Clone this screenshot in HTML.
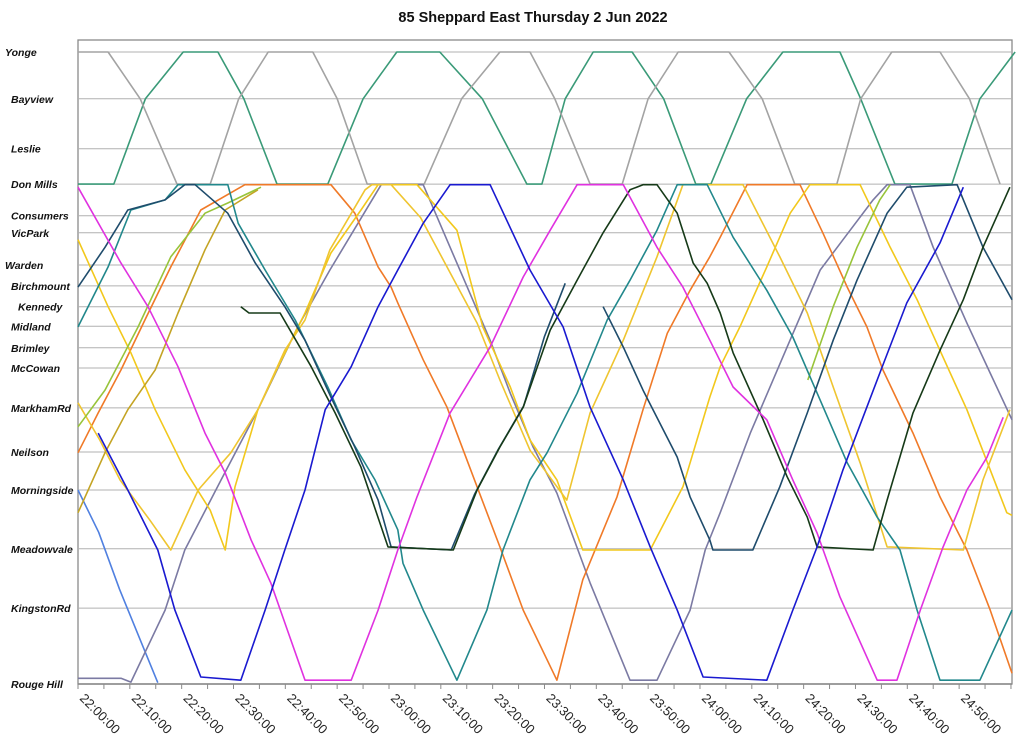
<!DOCTYPE html>
<html><head><meta charset="utf-8">
<style>
html,body{margin:0;padding:0;background:#fff;}
svg{display:block;font-family:"Liberation Sans",Arial,sans-serif;}
</style></head>
<body>
<svg id="chart" width="1024" height="753" viewBox="0 0 1024 753" xmlns="http://www.w3.org/2000/svg">
<text x="533" y="22" text-anchor="middle" font-size="14.5" font-weight="bold" fill="#111">85 Sheppard East Thursday 2 Jun 2022</text>
<g id="grid"></g><g id="series"></g><g id="axes"></g>
</svg>
<script>
// y categories (stations) and their distance along the route (0..100)
const stations = ["Yonge","Bayview","Leslie","Don Mills","Consumers","VicPark","Warden","Birchmount","Kennedy","Midland","Brimley","McCowan","MarkhamRd","Neilson","Morningside","Meadowvale","KingstonRd","Rouge Hill"];
const stationPos = [0,7.4,15.3,20.9,25.9,28.6,33.7,37,40.3,43.4,46.8,50,56.3,63.3,69.3,78.6,88,100];
const stationLabelX = [5,11,11,11,11,11,5,11,18,11,11,11,11,11,11,11,11,11];
const tickLabels = ["22:00:00","22:10:00","22:20:00","22:30:00","22:40:00","22:50:00","23:00:00","23:10:00","23:20:00","23:30:00","23:40:00","23:50:00","24:00:00","24:10:00","24:20:00","24:30:00","24:40:00","24:50:00"];
const tickMinutes = [0,10,20,30,40,50,60,70,80,90,100,110,120,130,140,150,160,170];
// trips: [minutes after 22:00, distance]
const tripGreen = [[0,20.9],[6.9,20.9],[13,7.4],[20.3,0],[27,0],[32,7.4],[38.4,20.9],[48.2,20.9],[55,7.4],[61.5,0],[69.8,0],[78,7.4],[86.6,20.9],[89.5,20.9],[94,7.4],[99.4,0],[106.9,0],[113,7.4],[119.2,20.9],[122.1,20.9],[129,7.4],[136,0],[147,0],[151,7.4],[157.6,20.9],[168.6,20.9],[174,7.4],[180.8,0]];
const tripGray = [[0,0],[5.8,0],[12,7.4],[19.1,20.9],[25.5,20.9],[31,7.4],[36.7,0],[45.3,0],[50,7.4],[55.8,20.9],[66.8,20.9],[74,7.4],[81.4,0],[87.2,0],[92,7.4],[98.8,20.9],[105,20.9],[110,7.4],[115.8,0],[125.6,0],[132,7.4],[138.3,20.9],[146.4,20.9],[151,7.4],[157,0],[166.3,0],[172,7.4],[177.9,20.9]];
const tripLightBlue = [[0,69.3],[4,76],[8,85],[12,93],[15.4,99.8]];
const tripSlate = [[0,99.1],[8.3,99.1],[10.2,99.7],[16.8,88.3],[20.6,78.8],[27.6,67.7],[34.7,56.6],[42.4,43.5],[48.6,34.5],[58.5,21],[66.6,21],[73.1,33.4],[79.5,45.6],[83.4,54],[87.8,62.5],[92.4,69.8],[98.8,84],[106.5,99.4],[111.7,99.4],[118.1,88.3],[121,78.8],[123.9,72.9],[129.7,60.3],[136.8,46.7],[143.2,34.5],[147.6,29.7],[153.4,23.4],[156.1,21],[160.5,21],[165,30.9],[171.5,42.9],[176,50.8],[180.2,58.2]];
const tripBlue = [[3.9,60.3],[9.6,69.3],[15.4,78.8],[18.7,88.3],[23.7,98.9],[31.4,99.4],[36.1,88.3],[39.9,78.8],[43.8,69.3],[47.7,56.6],[52.7,49.8],[57.9,40.3],[61.7,34.5],[66.6,27.1],[71.8,21],[79.5,21],[87.2,34.5],[93.6,43.5],[98.8,56.2],[105.2,67.7],[110.4,78.3],[115.6,88.3],[120.6,98.9],[132.9,99.4],[137.9,88.3],[142.6,78.3],[147.6,66.1],[154.7,50.8],[159.9,39.7],[166.3,30.2],[170.8,21.4]];
const tripMagenta = [[0,21.4],[8.3,33.4],[13.5,40.3],[19.3,49.8],[24.5,60.3],[28.4,66.6],[33.4,77.2],[37.2,84],[43.8,99.4],[52.7,99.4],[57.9,88.3],[61.7,78.8],[65.4,70.4],[71.8,57.1],[79.5,46.7],[85.9,35.6],[91.1,28.2],[96.3,21],[105.2,21],[111.7,30.9],[116.7,37.2],[121.9,45.6],[126.4,53],[132.9,58.2],[137.9,67.7],[142.6,76.1],[147,86.2],[154.2,99.4],[158,99.4],[162.5,88.3],[166.9,78.3],[171.5,69.3],[175.4,64.1],[178.5,57.8]];
const tripYellowA = [[0,29.7],[5.8,40.3],[10.2,47.6],[14.9,56.6],[20.6,66.1],[25.5,72.5],[28.4,78.8],[30.3,68.8],[34.7,56.6],[38.6,49.8],[43.8,41.3],[48.8,31.8],[54.6,25],[57.9,21],[65.4,21],[73.1,28.2],[78.1,43.5],[83.4,53],[87.2,61.4],[92.4,67.7],[97.4,78.8],[110.4,78.8],[116.7,68.8],[121.9,54.6],[123.9,49.8],[127.7,43.5],[132.9,34],[137.4,25.5],[141.2,21],[150.9,21],[156.7,30.9],[161.9,39.2],[166.9,48.3],[171.5,56.6],[176,66.1],[179.2,72.9],[180.2,73.3]];
const tripYellowB = [[0,55.5],[4.2,61.4],[8.1,67.7],[13.9,74.1],[17.9,78.8],[23.2,69.3],[29.5,63.4],[34.7,56.6],[39.9,47.2],[43.8,42.4],[48.6,31.3],[55.4,21.8],[56.7,21],[60.4,21],[66.1,26.2],[77,42.9],[81.4,51.9],[87.2,63],[94.3,70.9],[98.8,57.1],[105.2,45.6],[111.7,32.4],[116.7,21],[128.3,21],[135.4,32.4],[140.7,41.3],[145.7,53],[150.9,65],[156.1,78.3],[170.8,78.8],[174.6,67.7],[179.8,56.6]];
const tripOlive = [[0,72.9],[5.2,63.4],[9.6,56.6],[14.9,50.3],[19.3,41.3],[24.5,31.3],[28.4,25],[34.7,21.8]];
const tripOrange = [[0,63.4],[3.9,57.1],[8.3,50.3],[12.9,42.4],[17.9,34],[23.7,25],[32.2,21],[48.8,21],[53.4,25.5],[57.9,34],[60.4,37.2],[61.7,39.7],[66.6,48.7],[71.2,56.2],[77,68.8],[81.4,78.3],[85.9,88.3],[92.4,99.4],[97.4,83.5],[104,70.4],[109,56.6],[113.7,44.5],[118.1,37.7],[121.9,32.4],[123.9,29.3],[129.1,21],[139.3,21],[143.7,28.6],[148.4,37.2],[152.2,43.5],[155.3,50.3],[161.1,60.3],[166.3,70.4],[171.5,78.8],[176,88.3],[180.2,98.3]];
const tripLime1 = [[0,59.3],[5.2,53.5],[11.6,43.5],[17.9,32.4],[24.5,25.5],[28.9,23.9],[35.3,21.4]];
const tripLime2 = [[140.8,51.9],[145.7,40.3],[150.3,30.9],[154.7,23.4],[156.7,21]];
const tripNavy = [[0,37.2],[5.2,30.9],[9.6,25],[16.8,23.4],[20.6,21],[22.6,21],[28.9,25.5],[34.2,33.4],[39.9,40.3],[43.8,45.6],[48.8,54.6],[53.4,62.5],[57.9,70.9],[60.4,78.3],[72,78.8],[76.5,70],[81,63],[86,56],[90,45],[94,36.6]];
const tripNavy2 = [[101.3,40.3],[105.2,46.7],[109,53.5],[115.6,64.1],[118.1,70.4],[121.9,77.2],[122.5,78.8],[130.2,78.8],[135.4,68.8],[140.7,57.1],[145.7,45.6],[150.3,36.1],[156.1,25.5],[159.9,21.4],[169.6,21],[174.6,30.9],[180.2,39.2]];
const tripBlack = [[31.4,40.3],[33,41.3],[39,41.3],[45,49.8],[49.6,57.1],[54.6,65.7],[59.8,78.3],[72.4,78.8],[77,69.3],[81.4,62.5],[85.9,56.2],[91.1,44],[96.3,36.1],[101.3,28.6],[106.5,21.8],[109,21],[111.7,21],[115.6,25.5],[118.7,33.4],[121.4,36.6],[123.9,41.3],[126.4,47.6],[132.2,58.2],[136.8,67.2],[140.7,73.6],[142.6,78.3],[153.4,78.8],[156.1,70.9],[161.1,57.1],[166.3,47.2],[170.8,39.2],[174.6,30.9],[179.8,21.4]];
const tripTeal = [[0,43.5],[5.8,34],[10.2,25],[16.8,23.4],[19.3,21],[28.9,21],[30.9,27.1],[36.1,34.5],[41.9,42.4],[48.2,53],[52.7,61.4],[57.3,67.7],[61.7,75.6],[62.7,80.9],[66.6,88.3],[73.1,99.4],[78.9,88.3],[82,78.8],[87.2,67.7],[90.5,63.4],[96.3,54],[102.1,42.4],[106.5,36.1],[111.7,28.2],[115.6,21],[121.4,21],[126.4,29.3],[132.9,37.7],[137.9,45.1],[143.2,55.1],[148.4,65],[154.2,73.6],[158.6,78.8],[161.9,88.3],[166.3,99.4],[174,99.4],[180.2,88.3]];

const trips = [
 {name:"trip-green-shuttle",d:tripGreen,c:"#3a9a78"},
 {name:"trip-gray-shuttle",d:tripGray,c:"#a3a3a3"},
 {name:"trip-light-blue",d:tripLightBlue,c:"#5080e0"},
 {name:"trip-slate",d:tripSlate,c:"#7b7aa3"},
 {name:"trip-orange",d:tripOrange,c:"#f07a28"},
 {name:"trip-yellow-a",d:tripYellowA,c:"#f2c81c"},
 {name:"trip-yellow-b",d:tripYellowB,c:"#efc530"},
 {name:"trip-olive",d:tripOlive,c:"#c4a424"},
 {name:"trip-lime-1",d:tripLime1,c:"#98c43a"},
 {name:"trip-lime-2",d:tripLime2,c:"#98c43a"},
 {name:"trip-teal",d:tripTeal,c:"#22888c"},
 {name:"trip-navy",d:tripNavy,c:"#1f4c6c"},
 {name:"trip-navy-2",d:tripNavy2,c:"#1f4c6c"},
 {name:"trip-black",d:tripBlack,c:"#163a18"},
 {name:"trip-magenta",d:tripMagenta,c:"#e032e0"},
 {name:"trip-blue",d:tripBlue,c:"#1a1ad0"}
];

const X0=78, X1=1012, Y0=52, Y1=684, TMAX=180.2;
const xs = m => X0 + m*(X1-X0)/TMAX;
const ys = p => Y0 + p*(Y1-Y0)/100;
const NS="http://www.w3.org/2000/svg";
function mk(tag, attrs, parent, txt){const e=document.createElementNS(NS,tag);for(const k in attrs)e.setAttribute(k,attrs[k]);if(txt!==undefined)e.textContent=txt;parent.appendChild(e);return e;}
const grid=document.getElementById('grid'), series=document.getElementById('series'), axes=document.getElementById('axes');

// frame
const frame=mk('rect',{x:X0,y:40,width:X1-X0,height:Y1-40,fill:'none',stroke:'#8a8a8a','stroke-width':1.3},grid);



stations.forEach((s,i)=>{
  const y=ys(stationPos[i]);
  const l=mk('line',{x1:X0,x2:X1,y1:y,y2:y,stroke:'#b0b0b0','stroke-width':1},grid);
  
  
  const t=mk('text',{x:stationLabelX[i],y:y+4,'font-size':10.5,'font-weight':'bold','font-style':'italic',fill:'#111'},axes,s);
  
  
});

trips.forEach(tr=>{
  const pts=tr.d.map(p=>xs(p[0]).toFixed(1)+','+ys(p[1]).toFixed(1)).join(' ');
  const pl=mk('polyline',{points:pts,fill:'none',stroke:tr.c,'stroke-width':1.6,'stroke-linejoin':'round'},series);
  
  
});

// x axis
const ax=mk('line',{x1:X0,x2:X1,y1:Y1,y2:Y1,stroke:'#8a8a8a','stroke-width':1.5},axes);


for(let m=0;m<=180;m+=5){
  const tk=mk('line',{x1:xs(m),x2:xs(m),y1:Y1,y2:Y1+5,stroke:'#8a8a8a','stroke-width':1},axes);
  
  
}
tickLabels.forEach((lab,i)=>{
  const x=xs(tickMinutes[i])+1, y=Y1+15;
  const t=mk('text',{x:x,y:y,'font-size':13,fill:'#222',transform:'rotate(45 '+x+' '+y+')'},axes,lab);
  
  
});
</script>
</body></html>
